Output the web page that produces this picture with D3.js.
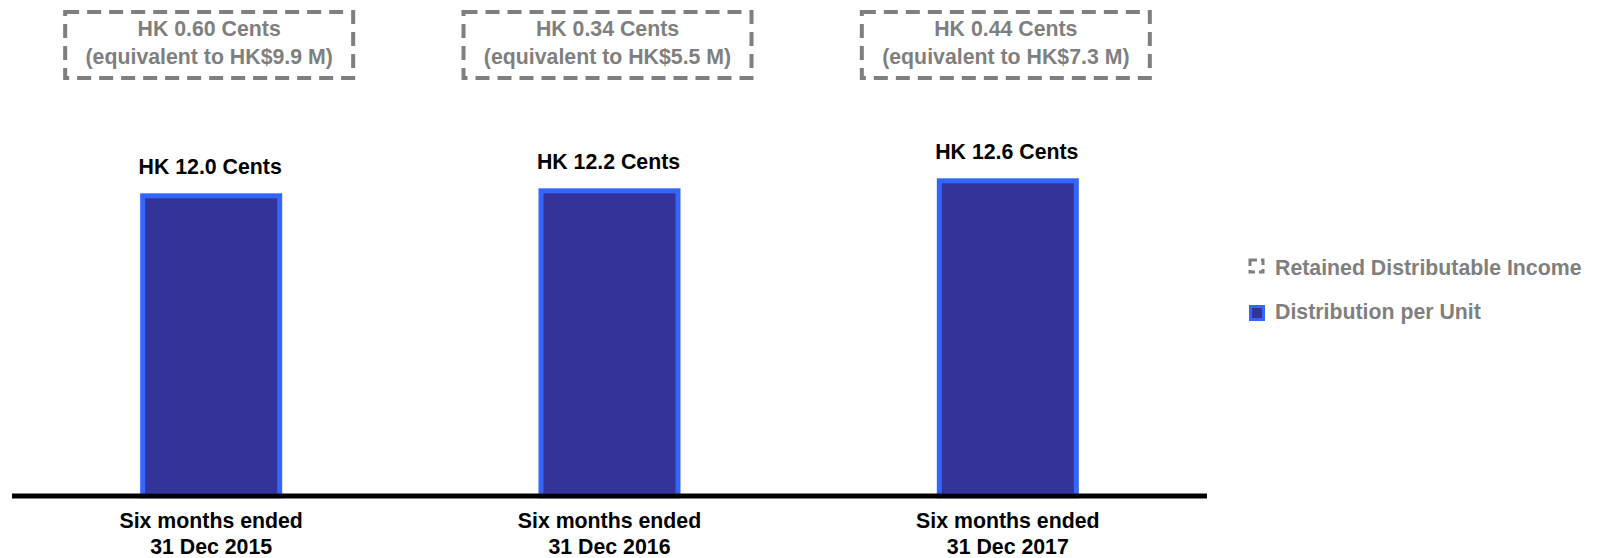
<!DOCTYPE html>
<html>
<head>
<meta charset="utf-8">
<script src="https://cdn.jsdelivr.net/npm/d3@7"></script>
<style>
  html, body { margin: 0; padding: 0; background: #ffffff; }
  svg { display: block; }
  text { font-family: "Liberation Sans", Arial, sans-serif; font-weight: bold; }
</style>
</head>
<body>
<svg id="chart" width="1603" height="558"></svg>
<script>
// ---- data ----
const categories = ["Six months ended\n31 Dec 2015", "Six months ended\n31 Dec 2016", "Six months ended\n31 Dec 2017"];
const distributionPerUnit = [12.0, 12.2, 12.6];
const distributionLabels = ["HK 12.0 Cents", "HK 12.2 Cents", "HK 12.6 Cents"];
const retainedCents = ["HK 0.60 Cents", "HK 0.34 Cents", "HK 0.44 Cents"];
const retainedEquivalent = ["(equivalent to HK$9.9 M)", "(equivalent to HK$5.5 M)", "(equivalent to HK$7.3 M)"];
const legendLabels = ["Retained Distributable Income", "Distribution per Unit"];

// ---- styles ----
const FONT = 21.3;
const GRAY = "#7f7f7f";
const BAR_FILL = "#333399";
const BAR_STROKE = "#3366ff";
const BAR_SW = 5;

const svg = d3.select("#chart");

const x = d3.scaleBand()
  .domain(categories)
  .range([12, 1207])
  .paddingInner(0.6435)
  .paddingOuter(0.6435 / 2);

const y = d3.scaleLinear()
  .domain([0, 14])
  .range([493.3, 493.3 - 14 * 25]);

// bars
svg.append("g").selectAll("rect")
  .data(distributionPerUnit)
  .join("rect")
  .attr("x", (d, i) => x(categories[i]) + BAR_SW / 2)
  .attr("width", x.bandwidth() - BAR_SW)
  .attr("y", d => y(d) + BAR_SW / 2)
  .attr("height", d => y(0) - y(d))
  .attr("fill", BAR_FILL)
  .attr("stroke", BAR_STROKE)
  .attr("stroke-width", BAR_SW);

// value labels
svg.append("g").selectAll("text")
  .data(distributionPerUnit)
  .join("text")
  .attr("x", (d, i) => x(categories[i]) + x.bandwidth() / 2 - 1)
  .attr("y", d => y(d) - 19)
  .attr("text-anchor", "middle")
  .attr("font-size", FONT)
  .attr("fill", "#000")
  .text((d, i) => distributionLabels[i]);

// axis baseline
const xAxis = d3.axisBottom(x).tickSize(0).tickFormat("");
const axisG = svg.append("g").attr("transform", "translate(0,496)").call(xAxis);
axisG.select(".domain").attr("stroke", "#000").attr("stroke-width", 5).attr("d", `M12,0H1207`);

// category labels
const catG = svg.append("g").selectAll("text")
  .data(categories)
  .join("text")
  .attr("x", d => x(d) + x.bandwidth() / 2)
  .attr("y", 527.5)
  .attr("text-anchor", "middle")
  .attr("font-size", FONT)
  .attr("fill", "#000");
catG.each(function(d) {
  const lines = d.split("\n");
  const t = d3.select(this);
  lines.forEach((l, j) => {
    t.append("tspan")
      .attr("x", x(d) + x.bandwidth() / 2)
      .attr("dy", j === 0 ? 0 : 26)
      .text(l);
  });
});

// retained income dashed boxes
const boxW = 288, boxH = 66, boxTop = 12;
const boxG = svg.append("g").selectAll("g")
  .data(retainedCents)
  .join("g")
  .attr("transform", (d, i) => `translate(${x(categories[i]) + x.bandwidth() / 2 - 2},0)`);
boxG.append("rect")
  .attr("x", -boxW / 2)
  .attr("y", boxTop)
  .attr("width", boxW)
  .attr("height", boxH)
  .attr("fill", "none")
  .attr("stroke", GRAY)
  .attr("stroke-width", 4)
  .attr("stroke-dasharray", "14,8");
boxG.append("text")
  .attr("x", 0).attr("y", 36)
  .attr("text-anchor", "middle")
  .attr("font-size", FONT)
  .attr("fill", GRAY)
  .text(d => d);
boxG.append("text")
  .attr("x", 0).attr("y", 63.5)
  .attr("text-anchor", "middle")
  .attr("font-size", FONT)
  .attr("fill", GRAY)
  .text((d, i) => retainedEquivalent[i]);

// legend
const lg = svg.append("g");
lg.append("rect")
  .attr("x", 1250).attr("y", 260).attr("width", 13).attr("height", 12)
  .attr("fill", "none").attr("stroke", GRAY).attr("stroke-width", 3)
  .attr("stroke-dasharray", "7,4");
lg.append("rect")
  .attr("x", 1250.5).attr("y", 306.5).attr("width", 13).attr("height", 13)
  .attr("fill", BAR_FILL).attr("stroke", BAR_STROKE).attr("stroke-width", 3);
lg.selectAll("text.leg")
  .data(legendLabels)
  .join("text")
  .attr("class", "leg")
  .attr("x", 1275)
  .attr("y", (d, i) => i === 0 ? 275 : 319)
  .attr("font-size", FONT)
  .attr("fill", GRAY)
  .text(d => d);
</script>
</body>
</html>
